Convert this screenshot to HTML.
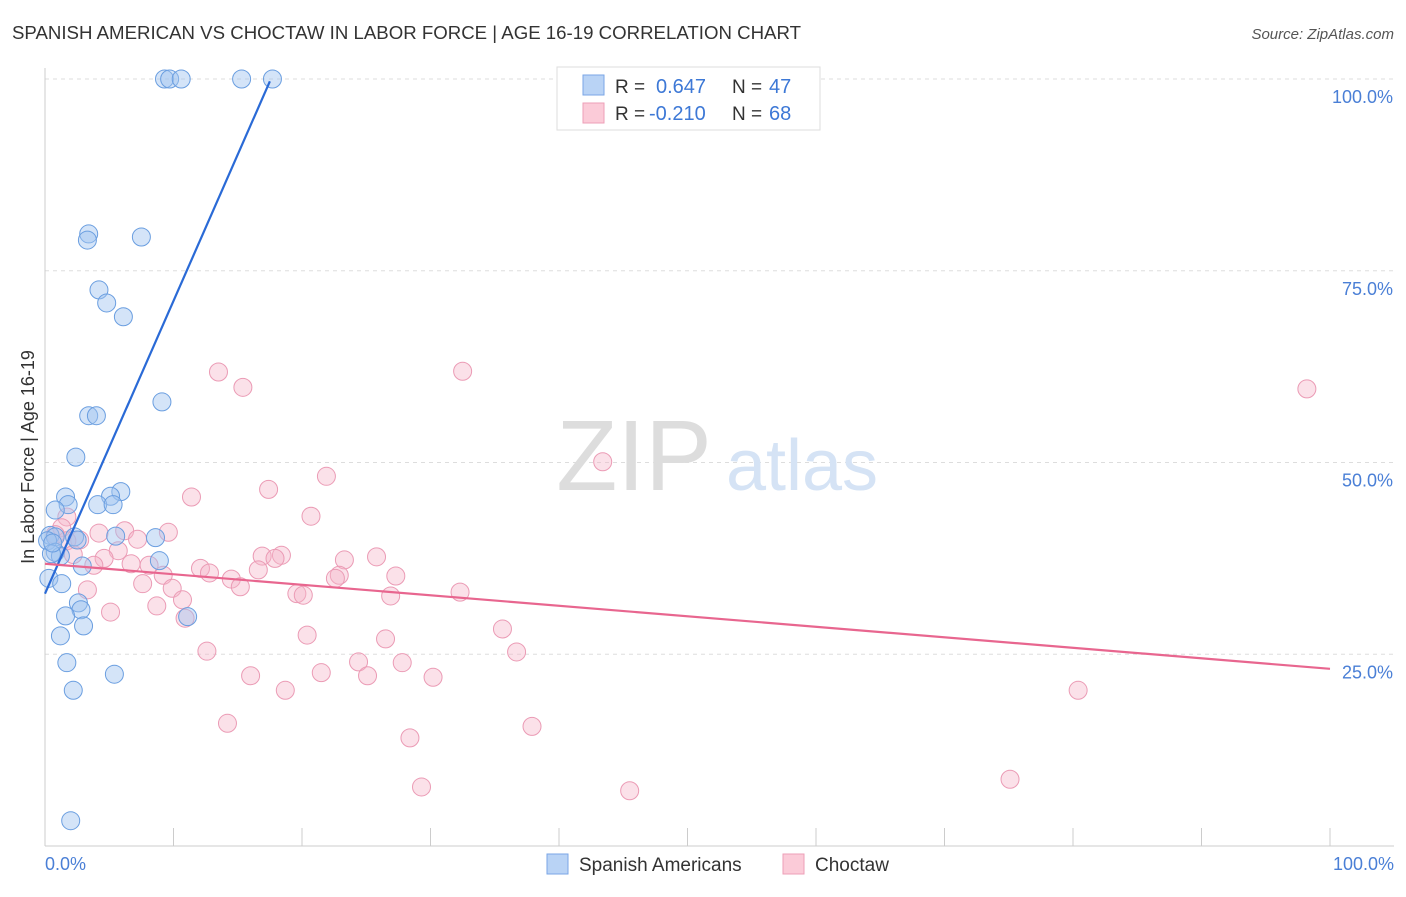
<!DOCTYPE html>
<html><head><meta charset="utf-8"><style>
body{margin:0;background:#fff;font-family:"Liberation Sans",sans-serif;}
svg text{font-family:"Liberation Sans",sans-serif;}
</style></head><body>
<svg id="chart" width="1406" height="892" viewBox="0 0 1406 892" xmlns="http://www.w3.org/2000/svg">
<text x="12" y="39" font-size="18" fill="#333" textLength="789" lengthAdjust="spacingAndGlyphs">SPANISH AMERICAN VS CHOCTAW IN LABOR FORCE | AGE 16-19 CORRELATION CHART</text>
<text x="1394" y="39" font-size="15" fill="#555" font-style="italic" text-anchor="end">Source: ZipAtlas.com</text>
<g id="grid"></g>
<g>
<text x="634" y="490" font-size="100" font-family="Liberation Serif,serif" fill="#ddd" text-anchor="middle">ZIP</text>
<text x="802" y="490" font-size="72" fill="#d5e3f5" text-anchor="middle">atlas</text>
</g>
<line x1="45" y1="68" x2="45" y2="846" stroke="#ccc"/>
<line x1="45" y1="846" x2="1394" y2="846" stroke="#ccc"/>
<g id="ticks"></g>
<g id="pts"></g>
<g id="lines"></g>
<text x="34" y="457" font-size="18" fill="#333" text-anchor="middle" transform="rotate(-90 34 457)">In Labor Force | Age 16-19</text>
<text x="45" y="870" font-size="18" fill="#4a7fd6">0.0%</text>
<text x="1394" y="870" font-size="18" fill="#4a7fd6" text-anchor="end">100.0%</text>
<g>
<rect x="557" y="67" width="263" height="63" fill="#fff" stroke="#ddd"/>
<rect x="583" y="75" width="21" height="20" fill="#b9d3f5" stroke="#7aa6e6"/>
<rect x="583" y="103" width="21" height="20" fill="#fbcbd8" stroke="#ee9fb7"/>
<text x="615" y="93" font-size="19" fill="#333">R = </text><text x="656" y="93" font-size="20" fill="#3d78d6">0.647</text>
<text x="732" y="93" font-size="19" fill="#333">N = </text><text x="769" y="93" font-size="20" fill="#3d78d6">47</text>
<text x="615" y="120" font-size="19" fill="#333">R = </text><text x="649" y="120" font-size="20" fill="#3d78d6">-0.210</text>
<text x="732" y="120" font-size="19" fill="#333">N = </text><text x="769" y="120" font-size="20" fill="#3d78d6">68</text>
</g>
<g>
<rect x="547" y="854" width="21" height="20" fill="#b9d3f5" stroke="#7aa6e6"/>
<text x="579" y="871" font-size="19" fill="#333">Spanish Americans</text>
<rect x="783" y="854" width="21" height="20" fill="#fbcbd8" stroke="#ee9fb7"/>
<text x="815" y="871" font-size="19" fill="#333">Choctaw</text>
</g>
</svg>
<script>
const yTicks=[25,50,75,100];
const yTickLabels=["25.0%","50.0%","75.0%","100.0%"];
const blueX=[9.3,9.7,10.6,15.3,17.7,3.4,3.3,7.5,4.2,4.8,6.1,9.1,3.4,4.0,2.4,1.6,5.9,5.1,1.8,4.1,5.3,0.8,5.5,8.6,2.3,0.4,0.8,0.2,0.8,1.2,0.5,8.9,2.9,0.3,1.3,2.6,2.8,1.6,3.0,11.1,1.2,1.7,5.4,2.2,2.0,0.6,2.5];
const blueY=[100,100,100,100,100,79.8,79.0,79.4,72.5,70.8,69.0,57.9,56.1,56.1,50.7,45.5,46.2,45.6,44.5,44.5,44.5,43.8,40.4,40.2,40.3,40.5,40.3,39.8,38.3,37.8,38.1,37.2,36.5,34.9,34.2,31.7,30.8,30.0,28.7,29.9,27.4,23.9,22.4,20.3,3.3,39.5,39.9];
const pinkX=[13.5,15.4,32.5,98.2,43.4,21.9,17.4,11.4,20.7,1.7,1.3,4.2,6.2,9.6,7.2,2.7,5.7,4.6,16.9,18.4,17.9,23.3,25.8,6.7,8.1,3.8,12.1,16.6,9.2,12.8,14.5,22.9,27.3,7.6,9.9,15.2,22.6,3.3,19.6,20.1,26.9,32.3,10.7,8.7,5.1,10.9,35.6,20.4,26.5,12.6,36.7,24.4,27.8,16.0,21.5,25.1,30.2,18.7,80.4,14.2,37.9,28.4,75.1,29.3,45.5,1.7,0.8,2.2];
const pinkY=[61.8,59.8,61.9,59.6,50.1,48.2,46.5,45.5,43.0,42.9,41.5,40.8,41.1,40.9,40.0,39.9,38.5,37.5,37.8,37.9,37.5,37.3,37.7,36.8,36.6,36.6,36.2,36.0,35.3,35.6,34.8,35.3,35.2,34.2,33.6,33.8,34.9,33.4,32.9,32.7,32.6,33.1,32.1,31.3,30.5,29.7,28.3,27.5,27.0,25.4,25.3,24.0,23.9,22.2,22.6,22.2,22.0,20.3,20.3,16.0,15.6,14.1,8.7,7.7,7.2,39.8,40.6,38.0];
const blueLine=[0,32.9,17.5,99.7];
const pinkLine=[0,36.8,100,23.1];
const xs=v=>45+v*12.85, ys=v=>846-v*7.67;
const NS="http://www.w3.org/2000/svg";
function mk(tag,attrs,parent){const e=document.createElementNS(NS,tag);for(const k in attrs)e.setAttribute(k,attrs[k]);parent.appendChild(e);return e;}
const grid=document.getElementById('grid'),svg=document.getElementById('chart');
yTicks.forEach((t,i)=>{
 const l=mk('line',{x1:45,x2:1394,y1:ys(t),y2:ys(t),stroke:'#ddd','stroke-dasharray':'4,4'},grid);
 
 
 const tx=mk('text',{x:1393,y:ys(t)+24,'font-size':18,fill:'#4a7fd6','text-anchor':'end'},svg);
 tx.textContent=yTickLabels[i];
 
 
});
const ticks=document.getElementById('ticks');
for(let i=0;i<=10;i++){
 const l=mk('line',{x1:xs(i*10),x2:xs(i*10),y1:828,y2:846,stroke:'#ccc'},ticks);
 
 
}
const pts=document.getElementById('pts');
pinkX.forEach((x,i)=>{
 const c=mk('circle',{cx:xs(x),cy:ys(pinkY[i]),r:9,fill:'rgba(246,180,200,0.4)',stroke:'#eb9bb5','stroke-width':1},pts);
 
 
});
blueX.forEach((x,i)=>{
 const c=mk('circle',{cx:xs(x),cy:ys(blueY[i]),r:9,fill:'rgba(160,196,240,0.45)',stroke:'#6a9ee0','stroke-width':1},pts);
 
 
});
const lines=document.getElementById('lines');
const bl=mk('line',{x1:xs(blueLine[0]),y1:ys(blueLine[1]),x2:xs(blueLine[2]),y2:ys(blueLine[3]),stroke:'#2a6ad6','stroke-width':2.2},lines);


const pl=mk('line',{x1:xs(pinkLine[0]),y1:ys(pinkLine[1]),x2:xs(pinkLine[2]),y2:ys(pinkLine[3]),stroke:'#e8668f','stroke-width':2.2},lines);


</script>
</body></html>
